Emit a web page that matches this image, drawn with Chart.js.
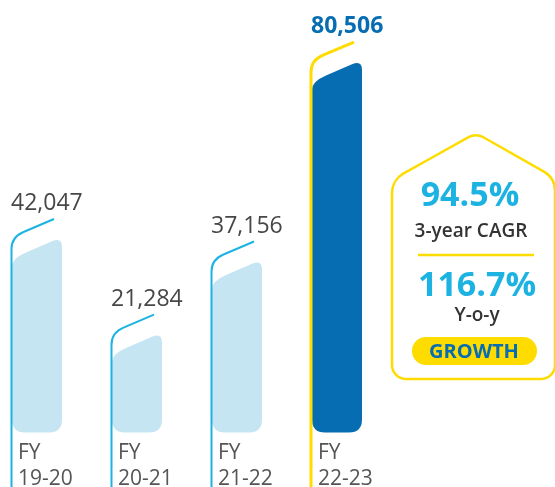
<!DOCTYPE html>
<html>
<head>
<meta charset="utf-8">
<script src="https://cdn.jsdelivr.net/npm/chart.js@4.4.0/dist/chart.umd.min.js"></script>
<style>
  html, body { margin: 0; padding: 0; background: #fff; }
  canvas { display: block; }
</style>
</head>
<body>
<canvas id="revenueChart" width="555" height="487"></canvas>
<script>
// Data
const years = [['FY', '19-20'], ['FY', '20-21'], ['FY', '21-22'], ['FY', '22-23']];
const revenue = [42047, 21284, 37156, 80506];
const cagrText = '94.5%';
const yoyText = '116.7%';

// colours
const lightBlue = '#c5e5f3';
const darkBlue = '#076db2';
const cyan = '#1cb3e2';
const yellow = '#ffdc00';

function barPath(ctx, L, R, T, B) {
  const rb = 13;
  const s = 0.43;
  const cy = T - 2;                  // corner where slant meets right side
  const dy = cy + (R - L) * s;       // corner where slant meets left side
  ctx.beginPath();
  ctx.moveTo(L, dy + 8);
  ctx.lineTo(L, B - rb);
  ctx.quadraticCurveTo(L, B, L + rb, B);
  ctx.lineTo(R - rb, B);
  ctx.quadraticCurveTo(R, B, R, B - rb);
  ctx.lineTo(R, cy + 10);
  ctx.quadraticCurveTo(R, cy, R - 10, cy + 10 * s);
  ctx.lineTo(L + 14, dy - 14 * s);
  ctx.quadraticCurveTo(L, dy, L, dy + 8);
  ctx.closePath();
}

const shapes = {
  id: 'shapes',
  beforeDatasetDraw() { return false; },
  afterDraw(chart) {
    const ctx = chart.ctx;
    const meta = chart.getDatasetMeta(0);
    const last = revenue.length - 1;
    ctx.save();
    meta.data.forEach((bar, i) => {
      const L = Math.round(bar.x - bar.width / 2);
      const R = L + Math.round(bar.width);
      const T = bar.y;
      const B = bar.base;
      const hi = i === last;

      // bar
      barPath(ctx, L, R, T, B);
      ctx.fillStyle = hi ? darkBlue : lightBlue;
      ctx.fill();

      // connector line
      const lx = hi ? L - 1 : L - 0.5;
      ctx.beginPath();
      ctx.moveTo(lx, chart.height);
      ctx.lineTo(lx, T + 10);
      ctx.quadraticCurveTo(lx, T - 2, lx + 12, T - 7);
      ctx.lineTo(L + 42, T - 20);
      ctx.strokeStyle = hi ? yellow : cyan;
      ctx.lineWidth = hi ? 3 : 2;
      ctx.stroke();

      // value label
      ctx.textAlign = 'left';
      ctx.textBaseline = 'alphabetic';
      ctx.font = (hi ? 'bold 23px' : '23px') + ' "Open Sans", sans-serif';
      ctx.fillStyle = hi ? darkBlue : '#474747';
      ctx.fillText(revenue[i].toLocaleString('en-US'), L - 1, T - 29);

      // category label
      ctx.font = '21px "Open Sans", sans-serif';
      ctx.fillStyle = '#555';
      ctx.fillText(years[i][0], L + 6, 459);
      ctx.fillText(years[i][1], L + 6, 485);
    });

    // growth badge
    ctx.beginPath();
    const pts = [[476, 133], [555, 178], [555, 379], [392, 379], [392, 180]];
    const rads = [16, 22, 14, 14, 22];
    ctx.moveTo((pts[0][0] + pts[4][0]) / 2, (pts[0][1] + pts[4][1]) / 2);
    for (let k = 0; k < pts.length; k++) {
      const p = pts[k];
      const n = pts[(k + 1) % pts.length];
      ctx.arcTo(p[0], p[1], n[0], n[1], rads[k]);
    }
    ctx.closePath();
    ctx.strokeStyle = yellow;
    ctx.lineWidth = 2.5;
    ctx.stroke();

    ctx.textAlign = 'center';
    ctx.fillStyle = cyan;
    ctx.font = 'bold 34px "Open Sans", sans-serif';
    ctx.fillText(cagrText, 470, 206);
    ctx.fillText(yoyText, 477, 296);

    ctx.fillStyle = '#333';
    ctx.font = '600 19px "Open Sans", sans-serif';
    ctx.fillText('3-year CAGR', 471, 237);
    ctx.fillText('Y-o-y', 477, 321);

    ctx.beginPath();
    ctx.moveTo(418, 255);
    ctx.lineTo(534, 255);
    ctx.strokeStyle = yellow;
    ctx.lineWidth = 2.5;
    ctx.stroke();

    // GROWTH pill
    ctx.beginPath();
    ctx.roundRect(412, 337, 125, 28, 14);
    ctx.fillStyle = yellow;
    ctx.fill();
    ctx.fillStyle = darkBlue;
    ctx.font = 'bold 20px "Open Sans", sans-serif';
    ctx.fillText('GROWTH', 474, 358);
    ctx.restore();
  }
};

new Chart(document.getElementById('revenueChart'), {
  type: 'bar',
  data: {
    labels: years,
    datasets: [{
      data: revenue,
      backgroundColor: lightBlue,
      barThickness: 50
    }]
  },
  options: {
    responsive: false,
    animation: false,
    layout: { padding: { left: 37, right: 218, top: 20, bottom: 74 } },
    plugins: { legend: { display: false }, tooltip: { enabled: false } },
    scales: {
      x: { display: false, offset: false },
      y: { display: false, min: 4240, max: 89640 }
    }
  },
  plugins: [shapes]
});
</script>
</body>
</html>
